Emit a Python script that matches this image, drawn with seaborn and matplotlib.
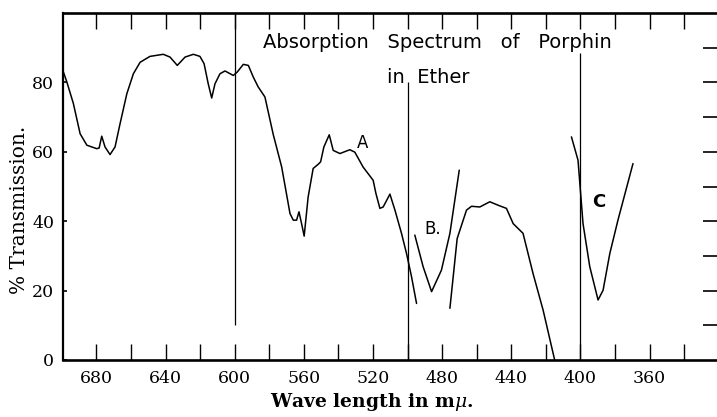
import numpy as np
import pandas as pd
import seaborn as sns
import matplotlib.pyplot as plt
from matplotlib.ticker import MultipleLocator

# main curve up to band A
wl_a = [700.4, 697.0, 693.3, 689.4, 685.5, 679.8, 678.4, 676.9, 675.0, 672.1,
        669.2, 666.3, 662.4, 658.6, 654.7, 649.0, 641.3, 637.4, 633.2, 628.7,
        623.9, 620.1, 617.7, 615.3, 613.3, 611.4, 608.5, 605.6, 600.8, 598.5,
        595.0, 592.1, 589.2, 586.4, 582.5, 577.7, 572.8, 568.0, 566.1, 564.2,
        562.8, 561.3, 559.8, 557.5, 554.6, 551.7, 550.3, 548.4, 545.3, 543.0,
        539.1, 533.4, 530.5, 525.7, 519.9, 518.3, 516.0, 514.1, 510.2, 507.3,
        503.5, 500.6, 497.7, 494.8]
tr_a = [84.9, 80.0, 73.9, 65.2, 61.9, 60.9, 61.1, 64.5, 61.4, 59.2,
        61.4, 68.1, 76.7, 82.5, 85.8, 87.5, 88.1, 87.3, 84.9, 87.3,
        88.1, 87.5, 85.4, 79.6, 75.5, 79.6, 82.5, 83.3, 82.0, 83.0,
        85.2, 84.9, 81.5, 78.7, 75.8, 65.0, 55.6, 42.2, 40.3, 40.3,
        42.7, 39.3, 35.7, 47.0, 55.2, 56.4, 57.1, 61.4, 64.9, 60.4,
        59.5, 60.6, 59.9, 55.6, 51.8, 48.0, 43.7, 44.1, 47.8, 43.2,
        36.5, 30.7, 24.0, 16.3]

# band B
wl_b = [495.8, 491.0, 486.1, 480.4, 475.5, 470.1]
tr_b = [36.0, 26.9, 19.7, 25.9, 36.5, 54.7]

# main curve after band B
wl_m = [475.5, 471.3, 469.4, 465.9, 463.0, 458.2, 452.4, 447.6, 442.8, 438.9,
        433.2, 427.4, 421.6, 414.9]
tr_m = [14.9, 35.0, 37.9, 43.2, 44.3, 44.1, 45.6, 44.6, 43.7, 39.3,
        36.5, 24.9, 14.4, 0.0]

# band C
wl_c = [405.2, 401.4, 398.5, 394.6, 389.8, 386.9, 383.0, 378.3, 369.6]
tr_c = [64.3, 57.6, 39.3, 26.9, 17.3, 20.1, 30.7, 40.3, 56.6]

# vertical reference lines
ref_wl = [600, 500, 400]
ref_lo = [10, 0, 0]
ref_hi = [100, 80, 88.5]

sns.set_style("ticks")
plt.rcParams["font.family"] = ["DejaVu Serif"]
plt.rcParams["mathtext.fontset"] = "dejavuserif"
plt.rcParams["text.color"] = "black"
plt.rcParams["axes.labelcolor"] = "black"
plt.rcParams["xtick.color"] = "black"
plt.rcParams["ytick.color"] = "black"
plt.rcParams["axes.edgecolor"] = "black"

fig = plt.figure(figsize=(7.17, 4.17), dpi=100)
ax = fig.add_axes([0.0874, 0.1367, 0.9126, 0.8321])

segments = [(wl_a, tr_a), (wl_b, tr_b), (wl_m, tr_m), (wl_c, tr_c)]
for w, t in segments:
    df = pd.DataFrame({"wl": w, "tr": t})
    sns.lineplot(data=df, x="wl", y="tr", ax=ax, color="black", lw=1.1,
                 sort=False, estimator=None)

ax.vlines(ref_wl, ref_lo, ref_hi, color="black", lw=0.9)

ax.set_xlim(699.5, 321)
ax.set_ylim(0, 100)

ax.xaxis.set_major_locator(MultipleLocator(40))
ax.xaxis.set_minor_locator(MultipleLocator(20))
ax.set_yticks([0, 20, 40, 60, 80])
ax.tick_params(axis="x", which="both", direction="in", top=True, bottom=True,
               length=11.5, width=1.0, labelsize=12.5, pad=7)
ax.tick_params(axis="y", direction="in", length=3, width=1.2, labelsize=12.5, pad=6)

sec = ax.twinx()
sec.set_ylim(0, 100)
sec.set_yticks([10, 20, 30, 40, 50, 60, 70, 80, 90])
sec.tick_params(axis="y", direction="in", length=10, width=1.2, labelright=False)
for side in ["right", "top", "left", "bottom"]:
    sec.spines[side].set_visible(False)

ax.spines["right"].set_visible(False)
ax.spines["top"].set_linewidth(1.9)
ax.spines["bottom"].set_linewidth(1.9)
ax.spines["left"].set_linewidth(1.6)

ax.set_xlabel(r"Wave length in m$\mu$.", fontsize=13.5, fontweight="bold",
              labelpad=3, x=0.473)
ax.set_ylabel("% Transmission.", fontsize=14.5, labelpad=2, y=0.432)

sans = ["DejaVu Sans"]
ax.text(583.6, 91.5, "Absorption   Spectrum   of   Porphin", family=sans,
        fontsize=14, ha="left", va="center")
ax.text(512.1, 81.4, "in  Ether", family=sans, fontsize=14, ha="left", va="center")
ax.text(525.8, 62.6, "A", family=sans, fontsize=12, ha="center", va="center")
ax.text(485.4, 37.7, "B.", family=sans, fontsize=12, ha="center", va="center")
ax.text(389.4, 45.6, "C", family=sans, fontsize=13, fontweight="bold",
        ha="center", va="center")

fig.savefig("out.png", dpi=100)
